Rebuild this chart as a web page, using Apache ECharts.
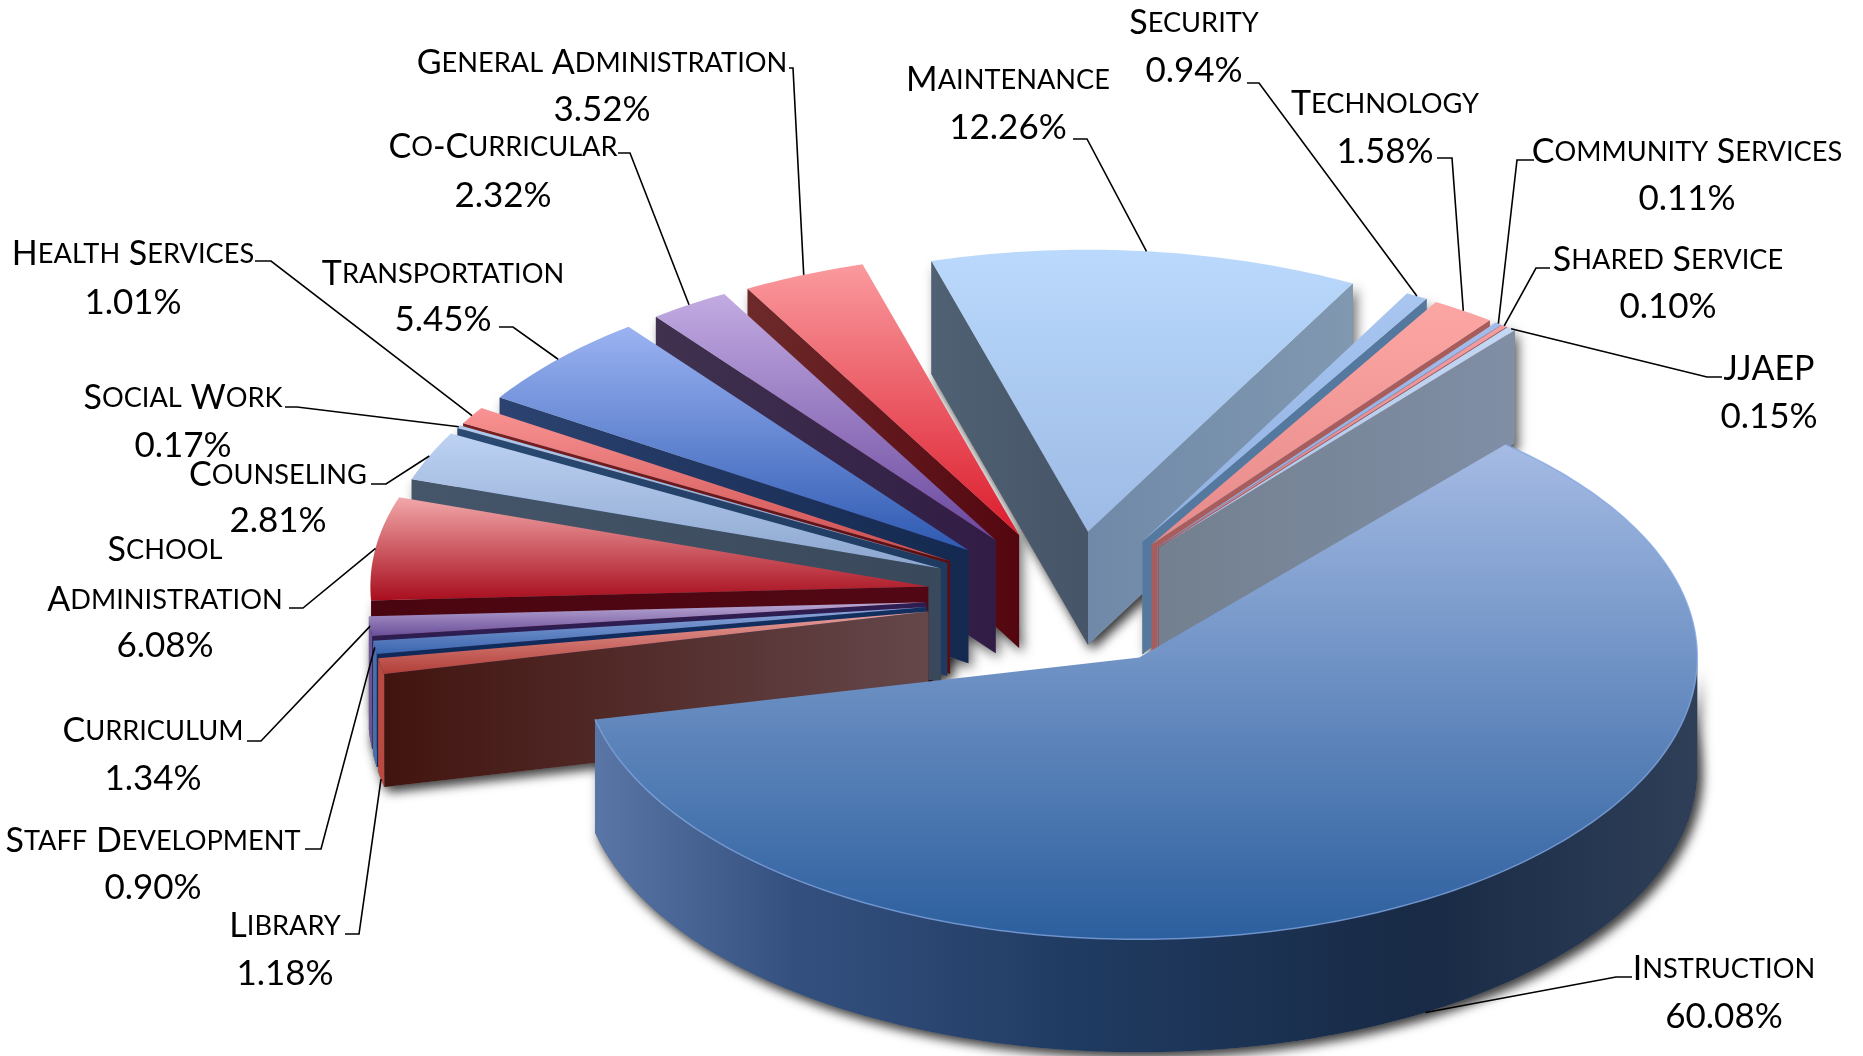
<!DOCTYPE html>
<html><head><meta charset="utf-8">
<style>html,body{margin:0;padding:0;background:#fff}#c{width:1863px;height:1056px}</style>
<script src="https://cdn.jsdelivr.net/npm/echarts@6/dist/echarts.min.js"></script>
</head><body><div id="c"></div>
<script>
// ---- data (clockwise from the Instruction slice) ----
var categories = ['Instruction','Library','Staff Development','Curriculum','School\nAdministration','Counseling','Social Work','Health Services','Transportation','Co-Curricular','General Administration','Maintenance','Security','Technology','Community Services','Shared Service','JJAEP'];
var shares = [60.08,1.18,0.90,1.34,6.08,2.81,0.17,1.01,5.45,2.32,3.52,12.26,0.94,1.58,0.11,0.10,0.15];
var shareLabels = ['60.08%','1.18%','0.90%','1.34%','6.08%','2.81%','0.17%','1.01%','5.45%','2.32%','3.52%','12.26%','0.94%','1.58%','0.11%','0.10%','0.15%'];

// ---- styles: top light, top dark, radial wall left, radial wall right, outer wall, end wall ----
var palette = [
 ['#A5BBE4','#2C5F9E','#3a5a8a','#1a2d4a','#1a2d4a'],
 ['#E8A09C','#B23F38','#42140F','#65474A','#B84A42'],
 ['#8FA8DC','#3A66AE','#10295A','#12305f','#4A6FA8'],
 ['#BBA9D4','#6A4F9A','#2E1D50','#2E1D50','#6C5596'],
 ['#F2A8AA','#A80E1E','#4A0610','#520814','#8a1010'],
 ['#BDD2F3','#8CA6CE','#46566A','#39485A','#6080a0'],
 ['#AECBEF','#7F9CC8','#2A4A72','#1F3A60','#2A4A72'],
 ['#F99393','#CC4D4D','#7A2020','#5A0E12','#7A2020'],
 ['#9BB3F2','#2E5AB2','#2C4270','#13294F','#2C4270'],
 ['#C2ABE2','#6A489E','#40324F','#311C45','#40324F'],
 ['#FA9A9E','#DC1C2C','#6E2A2A','#54060F','#6E2A2A'],
 ['#BAD9FC','#9CBAE4','#4F6173','#465567','#7089A8','#7089A8','#8098B0'],
 ['#A9C6F1','#8EAFE0','#55789F','#55789F','#55789F'],
 ['#FCA6A3','#E68A8A','#A85D5D','#A85C5A','#A85D5D'],
 ['#A3BCEB','#8CA8DC','#6F88B8','#6F88B8','#6F88B8'],
 ['#F59C9C','#E07E7E','#A04A4A','#9E4A4C','#A04A4A'],
 ['#C2D8F4','#A8C4E8','#72808F','#808EA6','#8492A8']
];
// ---- geometry of the exploded, tilted pie ----
var CX = 1067, CY = 599, RX = 558, RY = 282, DEPTH = 113, EX = 141, EY = 68, START = -49;
// view correction of the far half of the tilted pie: [angle, rotation]
var warpStops = [[167,0],[171,-1],[180,-2.5],[201,-3],[239,-3],[256,-2.8],[300.6,-2.3],[304,-3.4],[309.7,-2.4],[311,-1.4]];
function warp(t, i){
  if (i === 0) return t;
  var u = ((t % 360) + 360) % 360;
  for (var k=1;k<warpStops.length;k++){
    var a = warpStops[k-1], b = warpStops[k];
    if (u <= b[0] + 1e-6) return t + a[1] + (b[1]-a[1]) * (u-a[0]) / (b[0]-a[0]);
  }
  return t + warpStops[warpStops.length-1][1];
}
// ---- label layout: [centre x, name y(s), share y, stub x0, stub x1, stub y, drop] ----
var labelLayout = [
 [1724,[969],1017,1632,1616,977,1],
 [285,[926],974,345,359,934,1],
 [153,[841],888,305,321,849,0],
 [153,[731],779,247,261,741,0],
 [165,[550,600],646,289,303,608,0],
 [278,[475],521,371,386,484,0],
 [183,[398],446,285,297,407,0],
 [133,[254],303,255,271,261,0],
 [443,[274],320,499,513,327,0],
 [503,[147],196,618,630,153,0],
 [602,[63],110,789,793,68,0],
 [1008,[80],128,1073,1087,139,0],
 [1194,[23],71,1247,1259,83,0],
 [1385,[104],152,1437,1452,158,0],
 [1687,[152],199,1534,1517,160,0],
 [1668,[260],307,1550,1536,268,0],
 [1769,[369],417,1722,1707,377,0]
];
var total = 0, cum = [];
shares.forEach(function(v){ cum.push(total); total += v; });
function deg(p){ return START + p * 3.6; }
function rad(d){ return d * Math.PI / 180; }
function lowerCaps(s){
  var out = '', run = '', kind = '';
  function flush(){ if(run){ out += '{' + kind + '|' + run + '}'; run=''; } }
  for (var i=0;i<s.length;i++){
    var ch = s[i], k = (ch >= 'a' && ch <= 'z') ? 's' : 'b';
    if (k !== kind){ flush(); kind = k; }
    run += k === 's' ? ch.toUpperCase() : ch;
  }
  flush(); return out;
}
var FONT = 'Lato';
var richCaps = {
  b:{fontFamily:FONT,fontSize:34,fill:'#000',color:'#000',verticalAlign:'bottom',lineHeight:40,height:40},
  s:{fontFamily:FONT,fontSize:27.2,fill:'#000',color:'#000',verticalAlign:'bottom',lineHeight:40,height:40}
};
var paintOrder = [11,10,9,8,7,6,5,4,3,2,1,12,13,14,15,16,0];
var SHADOW = {fill:'#888',shadowBlur:12,shadowColor:'rgba(0,0,0,0.55)',shadowOffsetX:4,shadowOffsetY:4};

function renderItem(params, api){
  var i = params.dataIndex, v = api.value(0);
  var a0 = deg(cum[i]), a1 = deg(cum[i] + v), mid = (a0 + a1) / 2;
  var ox = CX + EX * Math.cos(rad(mid)), oy = CY + EY * Math.sin(rad(mid));
  function P(t, d){ var w = rad(warp(t, i)); return [ox + RX*Math.cos(w), oy + RY*Math.sin(w) + (d||0)]; }
  var apex = [ox, oy], apexB = [ox, oy + DEPTH];
  var arc = [], arcB = [], n = Math.max(2, Math.ceil(a1 - a0));
  for (var k=0;k<=n;k++){ var t = a0 + (a1-a0)*k/n; arc.push(P(t,0)); arcB.push(P(t,DEPTH)); }
  var c = palette[i], z = paintOrder.indexOf(i) * 10 + 10, kids = [];
  function grad(x2,y2,stops){ return {type:'linear',x:0,y:0,x2:x2,y2:y2,colorStops:stops}; }
  kids.push({type:'polygon', z2:1, shape:{points:[apexB].concat(arcB)}, style:SHADOW});
  if (Math.cos(rad(a0)) < 0){
    var r0 = P(a0,0), rb0 = P(a0,DEPTH);
    kids.push({type:'polygon', z2:1, shape:{points:[apexB,rb0,r0,apex]}, style:SHADOW});
    kids.push({type:'polygon', z2:z+1, shape:{points:[apex,r0,rb0,apexB]},
      style:{fill:grad(1,0,[{offset:0,color:c[2]},{offset:1,color:c[3]}])}});
  }
  if (Math.cos(rad(a1)) > 0){
    var r1 = P(a1,0), rb1 = P(a1,DEPTH);
    kids.push({type:'polygon', z2:1, shape:{points:[apexB,rb1,r1,apex]}, style:SHADOW});
    kids.push({type:'polygon', z2:z+1, shape:{points:[apex,r1,rb1,apexB]},
      style:{fill:grad(1,0,[{offset:0,color:c[5]||c[2]},{offset:1,color:c[6]||c[3]}])}});
  }
  var fr = [], frB = [];
  for (k=0;k<=n;k++){ t = a0 + (a1-a0)*k/n; if (Math.sin(rad(t)) >= 0){ fr.push(P(t,0)); frB.push(P(t,DEPTH)); } }
  if (fr.length > 1){
    var wall = i === 0
      ? grad(1,0,[{offset:0,color:'#5A76A6'},{offset:0.18,color:'#34507F'},{offset:0.45,color:'#1F3A60'},{offset:0.75,color:'#182A45'},{offset:1,color:'#2F3F58'}])
      : c[4];
    kids.push({type:'polygon', z2:1, shape:{points:fr.concat(frB.slice().reverse())}, style:SHADOW});
    kids.push({type:'polygon', z2:z+2, shape:{points:fr.concat(frB.slice().reverse())}, style:{fill:wall}});
  }
  kids.push({type:'polygon', z2:z+3, shape:{points:[apex].concat(arc)},
    style:{fill:grad(0,1,[{offset:0,color:c[0]},{offset:1,color:c[1]}])}});
  if (i === 0){
    kids.push({type:'polyline', z2:z+4, shape:{points:arc}, style:{fill:'none',stroke:'rgba(130,165,225,0.75)',lineWidth:1.5}});
  }
  var L = labelLayout[i], anchor = P(mid, L[6] ? DEPTH : 0);
  kids.push({type:'polyline', z2:900, shape:{points:[[L[3],L[5]],[L[4],L[5]],anchor]},
    style:{fill:'none',stroke:'#000',lineWidth:1.6}});
  categories[i].split('\n').forEach(function(line, li){
    kids.push({type:'text', z2:901, style:{text:lowerCaps(line), rich:richCaps, x:L[0], y:L[1][li],
      align:'center', verticalAlign:'middle', fontFamily:FONT, fontSize:34, fill:'#000'}});
  });
  kids.push({type:'text', z2:901, style:{text:shareLabels[i], x:L[0], y:L[2], align:'center', verticalAlign:'middle',
    font:'35px '+FONT, fill:'#000'}});
  return {type:'group', children:kids};
}
var chart = echarts.init(document.getElementById('c'), null, {renderer:'canvas', width:1863, height:1056});
chart.setOption({
  animation:false, backgroundColor:'#fff',
  series:[{type:'custom', coordinateSystem:'none', renderItem:renderItem, silent:true,
    data:shares.map(function(v,i){ return {name:categories[i], value:[v]}; })}]
});
</script></body></html>
